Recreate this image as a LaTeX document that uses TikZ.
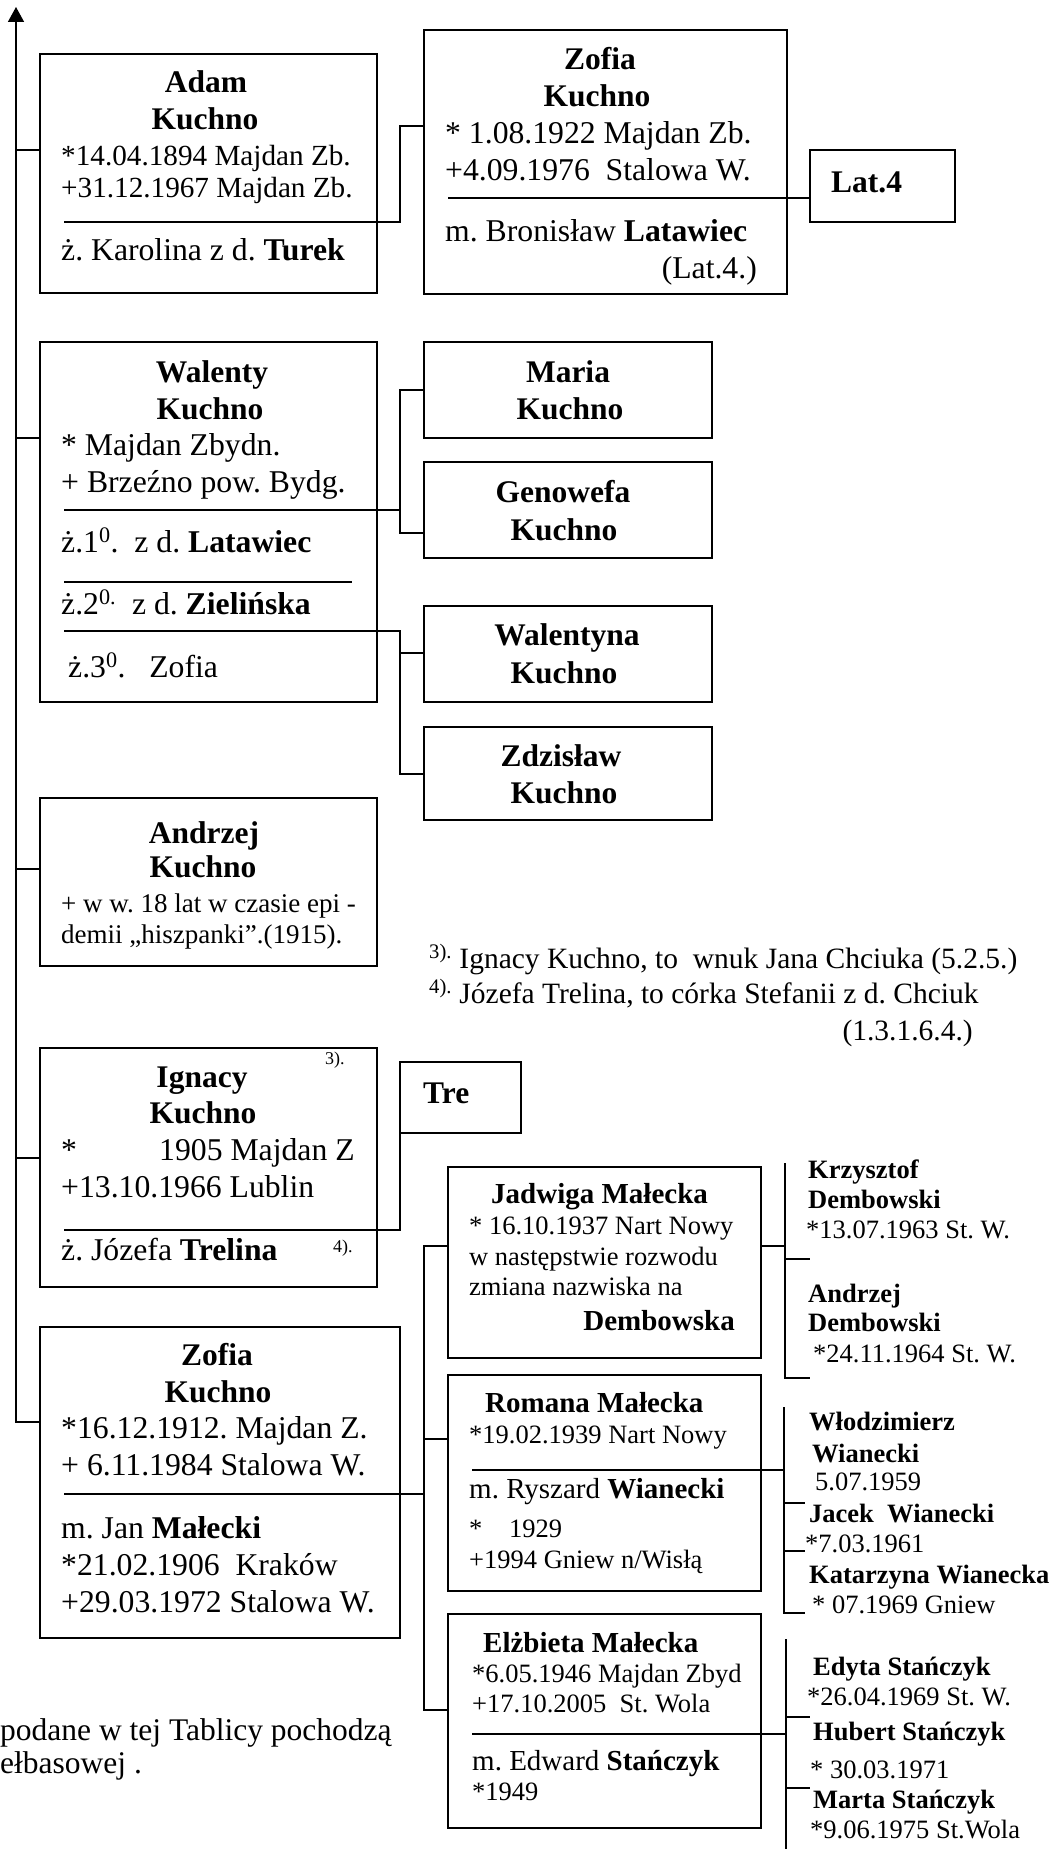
\documentclass[tikz,border=0pt]{standalone}
\usepackage{fontspec}
\setmainfont{Liberation Serif}
\usetikzlibrary{arrows.meta}
\newcommand{\ftMain}{\fontsize{31.7}{37}\selectfont}
\newcommand{\ftAd}{\fontsize{29.2}{35}\selectfont}
\newcommand{\ftName}{\fontsize{31.5}{37}\selectfont\bfseries}
\newcommand{\ftSm}{\fontsize{26.5}{32}\selectfont}
\newcommand{\ftSmB}{\fontsize{29}{34}\selectfont\bfseries}
\newcommand{\ftSp}{\fontsize{29}{34}\selectfont}
\newcommand{\ftKid}{\fontsize{26.5}{32}\selectfont\bfseries}
\newcommand{\ftNote}{\fontsize{29.5}{35}\selectfont}
\newcommand{\ftBL}{\fontsize{31.5}{37}\selectfont}
\newcommand{\ftTiny}{\fontsize{18}{22}\selectfont}
\begin{document}
\frenchspacing
\begin{tikzpicture}[x=1pt,y=-1pt,
  box/.style={draw, line width=1.8pt, inner sep=0pt, outer sep=0pt, anchor=north west},
  conn/.style={line width=1.6pt},
  lw/.style={inner sep=0pt, anchor=base west, font=\ftMain},
  le/.style={inner sep=0pt, anchor=base east, font=\ftMain},
  lc/.style={inner sep=0pt, anchor=base, font=\ftName},
  sw/.style={inner sep=0pt, anchor=base west, font=\ftSm},
  swb/.style={inner sep=0pt, anchor=base west, font=\ftSmB},
  spw/.style={inner sep=0pt, anchor=base west, font=\ftSp},
  kid/.style={inner sep=0pt, anchor=base west, font=\ftKid},
  kidd/.style={inner sep=0pt, anchor=base west, font=\ftSm},
  note/.style={inner sep=0pt, anchor=base west, font=\ftNote},
  tiny/.style={inner sep=0pt, anchor=base west, font=\ftTiny}
]
\fill[white] (0,0) rectangle (1050,1849);
\useasboundingbox (0,0) rectangle (1050,1849);

% ---------- boxes ----------
\node[box, minimum width=337pt, minimum height=239pt] (adam) at (40,54) {};
\node[box, minimum width=363pt, minimum height=264pt] (zofiaA) at (424,30) {};
\node[box, minimum width=145pt, minimum height=72pt] (lat) at (810,150) {};
\node[box, minimum width=337pt, minimum height=360pt] (walenty) at (40,342) {};
\node[box, minimum width=288pt, minimum height=96pt] (maria) at (424,342) {};
\node[box, minimum width=288pt, minimum height=96pt] (genowefa) at (424,462) {};
\node[box, minimum width=288pt, minimum height=96pt] (walentyna) at (424,606) {};
\node[box, minimum width=288pt, minimum height=93pt] (zdzislaw) at (424,727) {};
\node[box, minimum width=337pt, minimum height=168pt] (andrzej) at (40,798) {};
\node[box, minimum width=337pt, minimum height=239pt] (ignacy) at (40,1048) {};
\node[box, minimum width=121pt, minimum height=71pt] (tre) at (400,1062) {};
\node[box, minimum width=360pt, minimum height=311pt] (zofiaB) at (40,1327) {};
\node[box, minimum width=313pt, minimum height=191pt] (jadwiga) at (448,1167) {};
\node[box, minimum width=313pt, minimum height=216pt] (romana) at (448,1375) {};
\node[box, minimum width=313pt, minimum height=214pt] (elzbieta) at (448,1614) {};

% ---------- trunk ----------
\coordinate (trunkT) at (16,7);
\coordinate (tA) at (16,150);
\coordinate (tW) at (16,438);
\coordinate (tN) at (16,869);
\coordinate (tI) at (16,1158);
\coordinate (tZ) at (16,1422);
\draw[conn, -{Triangle[width=16pt,length=15pt]}] (tZ -| zofiaB.west) -- (tZ) -- (trunkT);
\draw[conn] (tA) -- (tA -| adam.west);
\draw[conn] (tW) -- (tW -| walenty.west);
\draw[conn] (tN) -- (tN -| andrzej.west);
\draw[conn] (tI) -- (tI -| ignacy.west);

% ---------- Adam ----------
\node[lc] (adamN1) at (206,93) {Adam};
\node[lc] (adamN2) at (205,130) {Kuchno};
\node[lw, font=\ftAd] (adamL1) at (61,165) {*14.04.1894 Majdan Zb.};
\node[lw, font=\ftAd] (adamL2) at (61,197) {+31.12.1967 Majdan Zb.};
\node[lw] (adamL3) at (61,260) {ż. Karolina z d. \textbf{Turek}};
\coordinate (adamS) at (64,222);
\coordinate (adamE) at (400,126);
\draw[conn] (adamS) -| (adamE) -- (adamE -| zofiaA.west);

% ---------- Zofia (Latawiec) ----------
\node[lc] (zofAN1) at (600,70) {Zofia};
\node[lc] (zofAN2) at (597,107) {Kuchno};
\node[lw] (zofAL1) at (445,143) {* 1.08.1922 Majdan Zb.};
\node[lw] (zofAL2) at (445,180) {+4.09.1976\ \ Stalowa W.};
\node[lw] (zofAL3) at (445,241) {m. Bronisław \textbf{Latawiec}};
\node[le] (zofAL4) at (757,278) {(Lat.4.)};
\coordinate (zofAS) at (448,198);
\draw[conn] (zofAS) -- (zofAS -| lat.west);
\node[lw, font=\ftName] (latT) at (831,192) {Lat.4};

% ---------- Walenty ----------
\node[lc] (walN1) at (212,382) {Walenty};
\node[lc] (walN2) at (210,419) {Kuchno};
\node[lw] (walL1) at (61,455) {* Majdan Zbydn.};
\node[lw] (walL2) at (61,492) {+ Brzeźno pow. Bydg.};
\node[lw] (walL3) at (61,552) {ż.1\textsuperscript{0}.\ \ z d. \textbf{Latawiec}};
\node[lw] (walL4) at (61,614) {ż.2\textsuperscript{0.}\ \ z d. \textbf{Zielińska}};
\node[lw] (walL5) at (68,677) {ż.3\textsuperscript{0}.\ \ \ Zofia};
\coordinate (walS1) at (64,510);
\coordinate (walB1) at (400,390);
\coordinate (walB2) at (400,533);
\draw[conn] (walS1) -- (walS1 -| walB1);
\draw[conn] (walB1 -| maria.west) -- (walB1) -- (walB2) -- (walB2 -| genowefa.west);
\coordinate (walS2) at (64,582);
\coordinate (walS2e) at (352,582);
\draw[conn] (walS2) -- (walS2e);
\coordinate (walS3) at (64,631);
\coordinate (walB3) at (400,653);
\coordinate (walB4) at (400,774);
\draw[conn] (walS3) -| (walB4) -- (walB4 -| zdzislaw.west);
\draw[conn] (walB3) -- (walB3 -| walentyna.west);

\node[lc] (marN1) at (568,382) {Maria};
\node[lc] (marN2) at (570,419) {Kuchno};
\node[lc] (genN1) at (563,502) {Genowefa};
\node[lc] (genN2) at (564,540) {Kuchno};
\node[lc] (wanN1) at (567,645) {Walentyna};
\node[lc] (wanN2) at (564,683) {Kuchno};
\node[lc] (zdzN1) at (561,766) {Zdzisław};
\node[lc] (zdzN2) at (564,803) {Kuchno};

% ---------- Andrzej ----------
\node[lc] (andN1) at (204,843) {Andrzej};
\node[lc] (andN2) at (203,877) {Kuchno};
\node[sw, font=\fontsize{27}{32}\selectfont] (andL1) at (61,912) {+ w w. 18 lat w czasie epi -};
\node[sw, font=\fontsize{27}{32}\selectfont] (andL2) at (61,943) {demii „hiszpanki”.(1915).};

% ---------- footnotes ----------
\node[note] (fn1) at (429,968) {\textsuperscript{3).} Ignacy Kuchno, to\ \ wnuk Jana Chciuka (5.2.5.)};
\node[note] (fn2) at (429,1003) {\textsuperscript{4).} Józefa Trelina, to córka Stefanii z d. Chciuk};
\node[inner sep=0pt, anchor=base east, font=\ftNote] (fn3) at (973,1040) {(1.3.1.6.4.)};

% ---------- Ignacy ----------
\node[lc] (ignN1) at (202,1087) {Ignacy};
\node[tiny] (ignM1) at (325,1064) {3).};
\node[lc] (ignN2) at (203,1123) {Kuchno};
\node[lw] (ignL1a) at (61,1160) {*};
\node[lw] (ignL1b) at (159,1160) {1905 Majdan Z};
\node[lw] (ignL2) at (61,1197) {+13.10.1966 Lublin};
\node[lw] (ignL3) at (61,1260) {ż. Józefa \textbf{Trelina}};
\node[tiny] (ignM2) at (333,1252) {4).};
\coordinate (ignS) at (64,1230);
\draw[conn] (ignS) -| (tre.south west);
\node[lw, font=\ftName] (treT) at (423,1103) {Tre};

% ---------- Zofia (Małecki) ----------
\node[lc] (zofBN1) at (217,1365) {Zofia};
\node[lc] (zofBN2) at (218,1402) {Kuchno};
\node[lw] (zofBL1) at (61,1438) {*16.12.1912. Majdan Z.};
\node[lw] (zofBL2) at (61,1475) {+ 6.11.1984 Stalowa W.};
\node[lw] (zofBL3) at (61,1538) {m. Jan \textbf{Małecki}};
\node[lw] (zofBL4) at (61,1575) {*21.02.1906\ \ Kraków};
\node[lw] (zofBL5) at (61,1612) {+29.03.1972 Stalowa W.};
\coordinate (zofBS) at (64,1494);
\coordinate (brA) at (424,1246);
\coordinate (brB) at (424,1439);
\coordinate (brC) at (424,1710);
\draw[conn] (zofBS) -- (zofBS -| brA);
\draw[conn] (brA -| jadwiga.west) -- (brA) -- (brC) -- (brC -| elzbieta.west);
\draw[conn] (brB) -- (brB -| romana.west);

% ---------- Jadwiga ----------
\node[swb] (jadN) at (491,1203) {Jadwiga Małecka};
\node[sw] (jadL1) at (469,1234) {* 16.10.1937 Nart Nowy};
\node[sw] (jadL2) at (469,1265) {w następstwie rozwodu};
\node[sw] (jadL3) at (469,1295) {zmiana nazwiska na};
\node[inner sep=0pt, anchor=base east, font=\ftSmB] (jadL4) at (735,1330) {Dembowska};
\coordinate (jB) at (785,1246);
\coordinate (jBt) at (785,1163);
\coordinate (jB1) at (785,1259);
\coordinate (jB2) at (785,1378);
\coordinate (jT1) at (810,1259);
\coordinate (jT2) at (810,1378);
\draw[conn] (jadwiga.east |- jB) -- (jB);
\draw[conn] (jBt) -- (jB2) -- (jT2);
\draw[conn] (jB1) -- (jT1);
\node[kid] (krzN1) at (808,1178) {Krzysztof};
\node[kid] (krzN2) at (808,1208) {Dembowski};
\node[kidd] (krzL) at (806,1238) {*13.07.1963 St. W.};
\node[kid] (anzN1) at (808,1302) {Andrzej};
\node[kid] (anzN2) at (808,1331) {Dembowski};
\node[kidd] (anzL) at (813,1362) {*24.11.1964 St. W.};

% ---------- Romana ----------
\node[swb] (romN) at (485,1412) {Romana Małecka};
\node[sw] (romL1) at (469,1443) {*19.02.1939 Nart Nowy};
\node[spw] (romL2) at (469,1498) {m. Ryszard \textbf{Wianecki}};
\node[sw] (romL3a) at (469,1537) {*};
\node[sw] (romL3b) at (509,1537) {1929};
\node[sw] (romL4) at (469,1568) {+1994 Gniew n/Wisłą};
\coordinate (romS) at (472,1470);
\coordinate (wB) at (784,1470);
\coordinate (wBt) at (784,1407);
\coordinate (wB1) at (784,1503);
\coordinate (wB2) at (784,1551);
\coordinate (wB3) at (784,1613);
\coordinate (wT1) at (805,1503);
\coordinate (wT2) at (805,1551);
\coordinate (wT3) at (805,1613);
\draw[conn] (romS) -- (wB);
\draw[conn] (wBt) -- (wB3) -- (wT3);
\draw[conn] (wB1) -- (wT1);
\draw[conn] (wB2) -- (wT2);
\node[kid] (wloN1) at (809,1430) {Włodzimierz};
\node[kid] (wloN2) at (812,1462) {Wianecki};
\node[kidd] (wloL) at (815,1490) {5.07.1959};
\node[kid] (jacN) at (809,1522) {Jacek\ \ Wianecki};
\node[kidd] (jacL) at (805,1552) {*7.03.1961};
\node[kid] (katN) at (809,1583) {Katarzyna Wianecka};
\node[kidd] (katL) at (812,1613) {* 07.1969 Gniew};

% ---------- Elzbieta ----------
\node[swb] (elzN) at (483,1652) {Elżbieta Małecka};
\node[sw] (elzL1) at (472,1682) {*6.05.1946 Majdan Zbyd};
\node[sw] (elzL2) at (472,1712) {+17.10.2005\ \ St. Wola};
\node[spw] (elzL3) at (472,1770) {m. Edward \textbf{Stańczyk}};
\node[sw] (elzL4) at (472,1800) {*1949};
\coordinate (elzS) at (472,1734);
\coordinate (sB) at (786,1734);
\coordinate (sBt) at (786,1639);
\coordinate (sBb) at (786,1849);
\coordinate (sB1) at (786,1717);
\coordinate (sB2) at (786,1788);
\coordinate (sT1) at (810,1717);
\coordinate (sT2) at (810,1788);
\draw[conn] (elzS) -- (sB);
\draw[conn] (sBt) -- (sBb);
\draw[conn] (sB1) -- (sT1);
\draw[conn] (sB2) -- (sT2);
\node[kid] (edyN) at (813,1675) {Edyta Stańczyk};
\node[kidd] (edyL) at (807,1705) {*26.04.1969 St. W.};
\node[kid] (hubN) at (813,1740) {Hubert Stańczyk};
\node[kidd] (hubL) at (810,1778) {* 30.03.1971};
\node[kid] (marN) at (813,1808) {Marta Stańczyk};
\node[kidd] (marL) at (810,1838) {*9.06.1975 St.Wola};

% ---------- bottom-left note ----------
\node[inner sep=0pt, anchor=base west, font=\ftBL] (bn1) at (0,1740) {podane w tej Tablicy pochodzą};
\node[inner sep=0pt, anchor=base west, font=\ftBL] (bn2) at (0,1773) {ełbasowej .};
\end{tikzpicture}
\end{document}
